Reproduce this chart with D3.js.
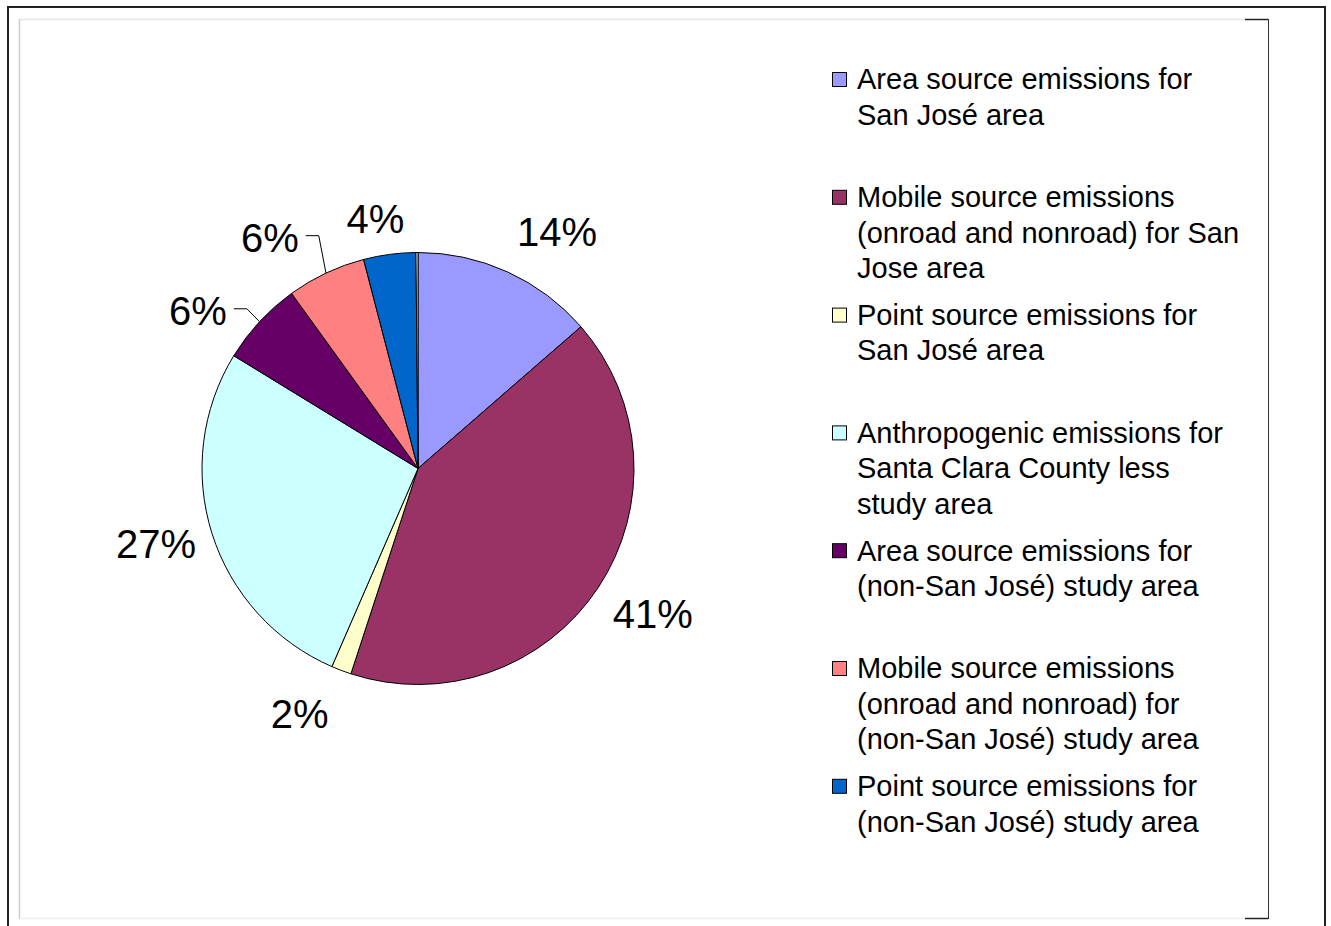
<!DOCTYPE html>
<html>
<head>
<meta charset="utf-8">
<script src="https://cdn.jsdelivr.net/npm/d3@7"></script>
<style>
  html, body { margin: 0; padding: 0; background: #fff; }
  svg { display: block; }
  text { font-family: "Liberation Sans", Arial, sans-serif; fill: #000; }
</style>
</head>
<body>
<svg id="chart" width="1331" height="926"></svg>
<script>
// ---------------- DATA ----------------
const categories = [
  "Area source emissions for San José area",
  "Mobile source emissions (onroad and nonroad) for San Jose area",
  "Point source emissions for San José area",
  "Anthropogenic emissions for Santa Clara County less study area",
  "Area source emissions for (non-San José) study area",
  "Mobile source emissions (onroad and nonroad) for (non-San José) study area",
  "Point source emissions for (non-San José) study area"
];
const legendLines = [
  ["Area source emissions for", "San José area"],
  ["Mobile source emissions", "(onroad and nonroad) for San", "Jose area"],
  ["Point source emissions for", "San José area"],
  ["Anthropogenic emissions for", "Santa Clara County less", "study area"],
  ["Area source emissions for", "(non-San José) study area"],
  ["Mobile source emissions", "(onroad and nonroad) for", "(non-San José) study area"],
  ["Point source emissions for", "(non-San José) study area"]
];
const shares = [13.6, 41.4, 1.5, 27.2, 6.3, 5.9, 3.9];   // percent of total
const residualShare = 0.15;                                // thin unlabeled sliver
const colors = ["#9999FF", "#993366", "#FFFFCC", "#CCFFFF", "#660066", "#FF8080", "#0066CC"];

// ---------------- LAYOUT ----------------
const svg = d3.select("#chart");
const W = 1331, H = 926;

// frames
const frame = svg.append("g");
frame.append("line").attr("x1", 8).attr("y1", 7).attr("x2", 1326).attr("y2", 7).attr("stroke", "#222").attr("stroke-width", 2);
frame.append("line").attr("x1", 8).attr("y1", 6).attr("x2", 8).attr("y2", H).attr("stroke", "#222").attr("stroke-width", 2);
frame.append("line").attr("x1", 1325).attr("y1", 6).attr("x2", 1325).attr("y2", H).attr("stroke", "#222").attr("stroke-width", 2);
// inner plot frame
frame.append("line").attr("x1", 20).attr("y1", 19.5).attr("x2", 1245).attr("y2", 19.5).attr("stroke", "#e4e4e4").attr("stroke-width", 1.5);
frame.append("line").attr("x1", 19.5).attr("y1", 19).attr("x2", 19.5).attr("y2", 919).attr("stroke", "#cfcfcf").attr("stroke-width", 1.5);
frame.append("line").attr("x1", 20).attr("y1", 918.5).attr("x2", 1245).attr("y2", 918.5).attr("stroke", "#eeeeee").attr("stroke-width", 1.5);
frame.append("line").attr("x1", 1245).attr("y1", 19.5).attr("x2", 1268).attr("y2", 19.5).attr("stroke", "#222").attr("stroke-width", 1.5);
frame.append("line").attr("x1", 1245).attr("y1", 918.5).attr("x2", 1268).attr("y2", 918.5).attr("stroke", "#222").attr("stroke-width", 1.5);
frame.append("line").attr("x1", 1268.5).attr("y1", 19).attr("x2", 1268.5).attr("y2", 919).attr("stroke", "#333").attr("stroke-width", 1);

// pie
const cx = 418, cy = 468.5, R = 216;
const slices = shares.map((v, i) => ({ value: v, color: colors[i], idx: i }))
  .concat([{ value: residualShare, color: "#FFFFFF", idx: -1 }]);
const total = d3.sum(slices, d => d.value);

const pie = d3.pie().sort(null).value(d => d.value);
const arcs = pie(slices);
const arc = d3.arc().innerRadius(0).outerRadius(R);

const g = svg.append("g").attr("transform", `translate(${cx},${cy})`);
g.selectAll("path.slice").data(arcs).join("path")
  .attr("class", "slice")
  .attr("d", arc)
  .attr("fill", d => d.data.color)
  .attr("stroke", "#000")
  .attr("stroke-width", 1)
  .attr("stroke-linejoin", "round");

// labels
const fmt = d3.format(".0%");
const fontSize = 40, capH = fontSize * 0.716;
const labelGap = 20;
const clamp = v => Math.max(-1, Math.min(1, v));
// small position tweaks (like manually moved Excel labels)
const labelNudge = [[8, -8], [-2, 0], [-14, 10], [3, -4], [-18, 17], [-23, -3], [-4, -2]];
const leaderFor = new Set([4, 5]);

const lg = g.append("g");
arcs.filter(a => a.data.idx >= 0).forEach(a => {
  const i = a.data.idx;
  const mid = (a.startAngle + a.endAngle) / 2;
  const s = Math.sin(mid), c = Math.cos(mid);
  const t = lg.append("text")
    .attr("font-size", fontSize)
    .attr("text-anchor", "middle")
    .text(fmt(a.data.value / total));
  const w = t.node().getComputedTextLength();
  const ax = (R + labelGap) * s, ay = -(R + labelGap) * c;
  const lx = ax + clamp(2 * s) * w / 2 + labelNudge[i][0];
  const ly = ay - clamp(2 * c) * capH / 2 + labelNudge[i][1];
  t.attr("x", lx).attr("y", ly + capH / 2);
  if (leaderFor.has(i)) {
    const ex = R * s, ey = -R * c;
    const sx = lx + w / 2 + 7, sy = ly - 2;
    lg.append("path")
      .attr("d", `M${sx},${sy}H${sx + 13}L${ex},${ey}`)
      .attr("fill", "none").attr("stroke", "#000").attr("stroke-width", 1);
  }
});

// legend
const legX = 832, legTextX = 857, legTop = 79, entryStep = 117.8, lineStep = 35.5, legFont = 29;
const leg = svg.append("g");
legendLines.forEach((lines, i) => {
  const y0 = legTop + i * entryStep;
  leg.append("rect")
    .attr("x", legX + 0.5).attr("y", y0 - 7 + 0.5)
    .attr("width", 14).attr("height", 14)
    .attr("fill", colors[i]).attr("stroke", "#000").attr("stroke-width", 1);
  const t = leg.append("text").attr("font-size", legFont);
  lines.forEach((ln, j) => {
    t.append("tspan").attr("x", legTextX).attr("y", y0 + j * lineStep + legFont * 0.358).text(ln);
  });
});
</script>
</body>
</html>
